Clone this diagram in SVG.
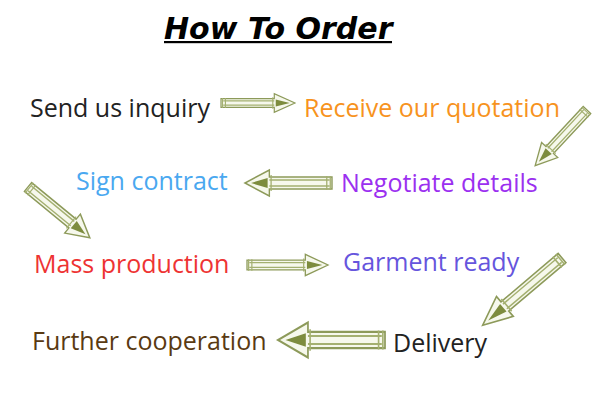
<svg xmlns="http://www.w3.org/2000/svg" width="600" height="400" viewBox="0 0 600 400">
<style>
.t{font-family:"Open Sans","Noto Sans","DejaVu Sans",sans-serif;font-size:25px}
.title{font-family:"DejaVu Sans","Liberation Sans",sans-serif;font-size:30px;font-weight:bold;font-style:italic;fill:#000}
.ao{fill:#f6f8ec;stroke:#8d9a5a;stroke-width:1.6;stroke-linejoin:miter}
.ai{fill:none;stroke:#a4b070;stroke-width:1.5}
.ah{fill:#7d8c3e}
</style>
<defs>
<g id="arr">
<path class="ao" d="M0,-6 L72,-6 L72,-13 L100,0 L72,13 L72,6 L0,6 Z"/>
<path class="ai" d="M3,-3 L72,-3 M3,3 L72,3 M2,-7 L2,7 M6,-7 L6,7 M70,-8 L70,8"/>
<path class="ah" d="M74,-5 L93,0 L74,5 Z"/>
</g>
</defs>
<rect width="600" height="400" fill="#fff"/>
<g id="title">
<text class="title" x="164" y="39">How To Order</text>
<rect x="164" y="41" width="228" height="2.2" fill="#000"/>
</g>
<g id="n1"><text class="t" x="30" y="117" fill="#222">Send us inquiry</text></g>
<g id="n2"><text class="t" x="304" y="117" fill="#f7931e">Receive our quotation</text></g>
<g id="n3"><text class="t" x="341" y="192" fill="#9b30f0">Negotiate details</text></g>
<g id="n4"><text class="t" x="76" y="190" fill="#4aa8f0">Sign contract</text></g>
<g id="n5"><text class="t" x="34" y="273" fill="#ee3333">Mass production</text></g>
<g id="n6"><text class="t" x="343" y="271" fill="#6655dd">Garment ready</text></g>
<g id="n7"><text class="t" x="393" y="352" fill="#222">Delivery</text></g>
<g id="n8"><text class="t" x="32" y="350" fill="#5a3a12">Further cooperation</text></g>
<g id="connectors">
<use href="#arr" transform="translate(221,103) scale(0.74,0.72)"/>
<use href="#arr" transform="translate(587,110) rotate(133) scale(0.76,0.85)"/>
<use href="#arr" transform="translate(332,183) rotate(180) scale(0.87,1)"/>
<use href="#arr" transform="translate(28,187) rotate(39.4) scale(0.8,0.95)"/>
<use href="#arr" transform="translate(247,265) scale(0.81,0.82)"/>
<use href="#arr" transform="translate(562,258) rotate(139.7) scale(1.04,1)"/>
<use href="#arr" transform="translate(385,340) rotate(180) scale(1.07,1.35)"/>
</g>
</svg>
